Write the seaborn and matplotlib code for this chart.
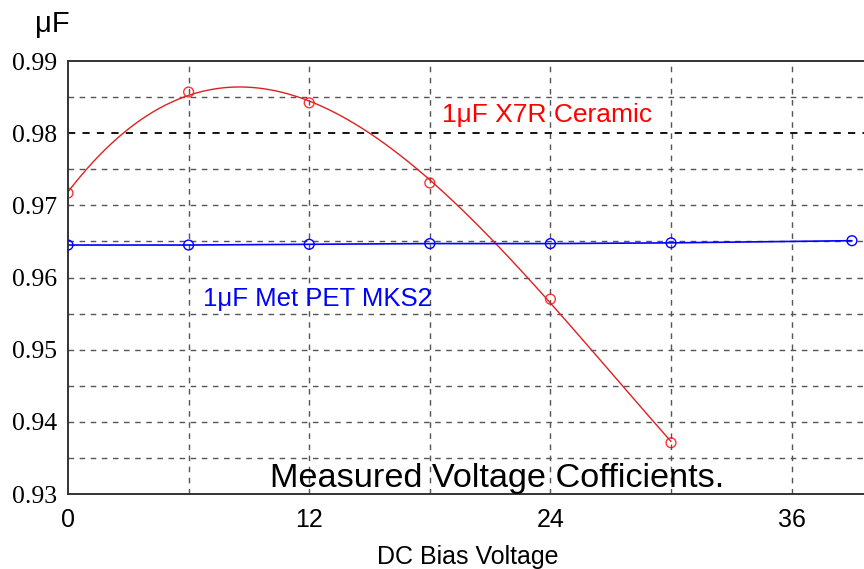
import numpy as np
import pandas as pd
import matplotlib
matplotlib.use('Agg')
import matplotlib.pyplot as plt
import seaborn as sns

# measured capacitance vs DC bias
x7r_volts = [0, 6, 12, 18, 24, 30]
x7r_uf = [0.9717, 0.9857, 0.9842, 0.9731, 0.9570, 0.9371]

pet_volts = [0, 6, 12, 18, 24, 30, 39]
pet_uf = [0.9645, 0.9645, 0.9646, 0.9647, 0.9647, 0.9648, 0.9651]

x_ticks = [0, 12, 24, 36]
y_ticks = [0.93, 0.94, 0.95, 0.96, 0.97, 0.98, 0.99]

x7r = pd.DataFrame({'volts': x7r_volts, 'uf': x7r_uf})
pet = pd.DataFrame({'volts': pet_volts, 'uf': pet_uf})

sns.set_style('white')
plt.rcParams['font.family'] = ['Liberation Sans', 'DejaVu Sans']
plt.rcParams['text.color'] = 'black'

fig = plt.figure(figsize=(8.64, 5.69), dpi=100)
ax = fig.add_axes([68 / 864, 1 - 494 / 569, 1 - 68 / 864, (494 - 61) / 569])

# grid
grid_kw = dict(color='#555555', linestyle=(0, (4, 4)), linewidth=1.0, zorder=0)
for v in np.arange(6, 40, 6):
    ax.axvline(v, **grid_kw)
for v in np.arange(0.935, 0.99, 0.005):
    if abs(v - 0.98) < 1e-6:
        ax.axhline(v, color='black', linestyle=(0, (4, 4)), linewidth=1.3, zorder=0)
    else:
        ax.axhline(v, **grid_kw)

# X7R ceramic: cubic fit drawn through the measured points
sns.regplot(data=x7r, x='volts', y='uf', order=3, ci=None, truncate=True, ax=ax,
            scatter_kws=dict(s=50, facecolors='none', edgecolors='red', linewidths=1.0),
            line_kws=dict(color='#e02020', linewidth=1.0))

# MET PET film
sns.lineplot(data=pet, x='volts', y='uf', ax=ax, color='blue', linewidth=1.2)
ax.scatter(pet['volts'], pet['uf'], s=50, facecolors='none', edgecolors='blue', linewidths=1.0, zorder=3)

ax.set_xlim(0, 39.6)
ax.set_ylim(0.93, 0.99)
ax.set_xticks(x_ticks)
ax.set_xticklabels([str(t) for t in x_ticks], fontsize=18)
ax.set_yticks(y_ticks)
ax.set_yticklabels([f'{t:.2f}' for t in y_ticks], fontsize=18.5, family='Liberation Serif')
ax.tick_params(axis='y', direction='in', length=5, width=1.2, colors='black', labelcolor='black', pad=8)
ax.tick_params(axis='x', direction='in', length=5, width=1.2, colors='black', labelcolor='black', pad=10)
ax.set_xlabel('')
ax.set_ylabel('')

for side in ['left', 'top', 'bottom']:
    ax.spines[side].set_color('#333333')
    ax.spines[side].set_linewidth(1.4)
ax.spines['right'].set_visible(False)

ax.text(18.6, 0.9815, '1\u03bcF X7R Ceramic', color='red', fontsize=19)
ax.text(6.7, 0.9561, '1\u03bcF Met PET MKS2', color='blue', fontsize=18.5)
ax.text(10.05, 0.9310, 'Measured Voltage Cofficients.', color='black', fontsize=24.7)

fig.text(35 / 864, 1 - 24 / 569, '\u03bcF', fontsize=21, va='center', color='black')
fig.text(468 / 864, 1 - 557 / 569, 'DC Bias Voltage', fontsize=18, ha='center', va='center', color='black')

fig.savefig('out.png', dpi=100, facecolor='white')
